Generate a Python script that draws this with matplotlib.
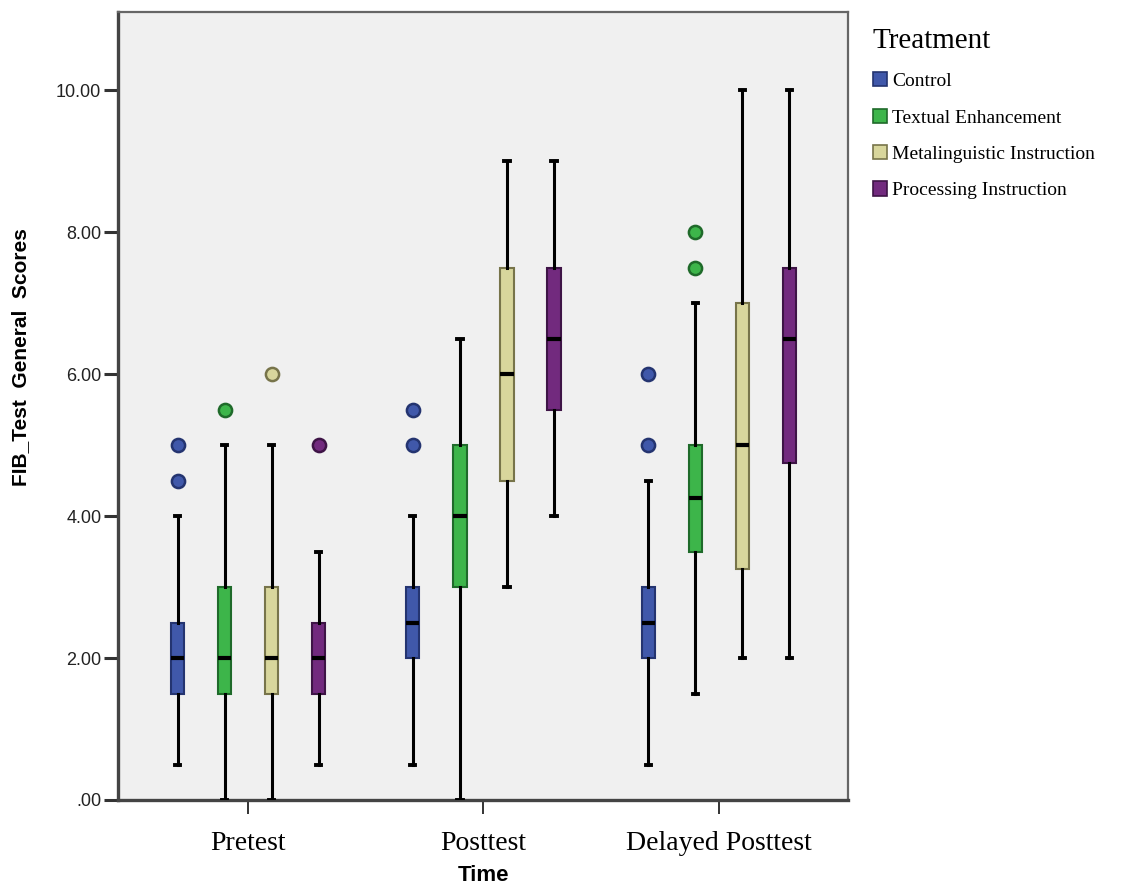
import matplotlib
matplotlib.use("Agg")
import matplotlib.pyplot as plt
from matplotlib.patches import Patch

# Groups along the x axis and treatments within each group
times = ["Pretest", "Posttest", "Delayed Posttest"]
treatments = ["Control", "Textual Enhancement", "Metalinguistic Instruction", "Processing Instruction"]
colors = ["#4058AA", "#3DB54A", "#D8D69C", "#722A7E"]
edge_colors = ["#243470", "#1F6A2A", "#77744A", "#3E1446"]

# Five-number summaries per treatment, one entry per time point
whisker_low = {
    "Control": [0.5, 0.5, 0.5],
    "Textual Enhancement": [0.0, 0.0, 1.5],
    "Metalinguistic Instruction": [0.0, 3.0, 2.0],
    "Processing Instruction": [0.5, 4.0, 2.0],
}
q1 = {
    "Control": [1.5, 2.0, 2.0],
    "Textual Enhancement": [1.5, 3.0, 3.5],
    "Metalinguistic Instruction": [1.5, 4.5, 3.25],
    "Processing Instruction": [1.5, 5.5, 4.75],
}
median = {
    "Control": [2.0, 2.5, 2.5],
    "Textual Enhancement": [2.0, 4.0, 4.25],
    "Metalinguistic Instruction": [2.0, 6.0, 5.0],
    "Processing Instruction": [2.0, 6.5, 6.5],
}
q3 = {
    "Control": [2.5, 3.0, 3.0],
    "Textual Enhancement": [3.0, 5.0, 5.0],
    "Metalinguistic Instruction": [3.0, 7.5, 7.0],
    "Processing Instruction": [2.5, 7.5, 7.5],
}
whisker_high = {
    "Control": [4.0, 4.0, 4.5],
    "Textual Enhancement": [5.0, 6.5, 7.0],
    "Metalinguistic Instruction": [5.0, 9.0, 10.0],
    "Processing Instruction": [3.5, 9.0, 10.0],
}
outliers = {
    "Control": [[4.5, 5.0], [5.0, 5.5], [5.0, 6.0]],
    "Textual Enhancement": [[5.5], [], [7.5, 8.0]],
    "Metalinguistic Instruction": [[6.0], [], []],
    "Processing Instruction": [[5.0], [], []],
}

y_ticks = [0, 2, 4, 6, 8, 10]

fig = plt.figure(figsize=(11.22, 8.9), dpi=100)
ax = fig.add_axes([118 / 1122, 1 - 800 / 890, (848 - 118) / 1122, (800 - 12) / 890])
ax.set_facecolor("#F0F0F0")

offsets = [-0.3, -0.1, 0.1, 0.3]
box_w = 0.056

for k, tr in enumerate(treatments):
    stats = []
    for g in range(len(times)):
        stats.append(dict(
            whislo=whisker_low[tr][g], q1=q1[tr][g], med=median[tr][g],
            q3=q3[tr][g], whishi=whisker_high[tr][g], fliers=outliers[tr][g],
        ))
    positions = [g + offsets[k] for g in range(len(times))]
    ax.bxp(
        stats, positions=positions, widths=box_w, patch_artist=True,
        showfliers=True, manage_ticks=False,
        boxprops=dict(facecolor=colors[k], edgecolor=edge_colors[k], linewidth=1.5),
        medianprops=dict(color="black", linewidth=3, solid_capstyle="butt"),
        whiskerprops=dict(color="black", linewidth=2.2),
        capprops=dict(color="black", linewidth=2.8),
        capwidths=0.022,
        flierprops=dict(marker="o", markerfacecolor=colors[k],
                        markeredgecolor=edge_colors[k], markeredgewidth=1.8,
                        markersize=9.5, linestyle="none"),
        zorder=3,
    )

ax.set_xlim(-0.553, 2.549)
ax.set_ylim(0, 11.1)

ax.set_xticks(range(len(times)))
ax.set_xticklabels(times, fontfamily="Liberation Serif", fontsize=20)
ax.tick_params(axis="x", length=10, width=1.4, color="#333333", pad=12)

ax.set_yticks(y_ticks)
ax.set_yticklabels([f"{v:.2f}".lstrip("0") if v == 0 else f"{v:.2f}" for v in y_ticks],
                   fontfamily="Liberation Sans", fontsize=13, color="#222222")
ax.tick_params(axis="y", length=10, width=2.2, color="#333333", pad=2)

for side in ["left", "bottom"]:
    ax.spines[side].set_linewidth(2.4)
    ax.spines[side].set_color("#444444")
for side in ["top", "right"]:
    ax.spines[side].set_linewidth(1.6)
    ax.spines[side].set_color("#666666")

ax.set_ylabel("FIB_Test  General  Scores", fontfamily="Liberation Sans",
              fontweight="bold", fontsize=15)
ax.yaxis.set_label_coords(-0.12, 0.562)
ax.set_xlabel("Time", fontfamily="Liberation Sans", fontweight="bold", fontsize=16)
ax.xaxis.set_label_coords(0.5, -0.082)

handles = [Patch(facecolor=c, edgecolor=e, linewidth=1.2) for c, e in zip(colors, edge_colors)]
leg = fig.legend(
    handles, treatments, title="Treatment", loc="upper left",
    bbox_to_anchor=(865 / 1122, 1 - 20 / 890), frameon=False,
    prop=dict(family="Liberation Serif", size=14),
    handlelength=0.75, handleheight=0.75, handletextpad=0.25,
    labelspacing=0.95, borderaxespad=0,
)
leg.get_title().set_fontfamily("Liberation Serif")
leg.get_title().set_fontsize(21)
leg._legend_box.align = "left"

fig.savefig("out.png", dpi=100)
